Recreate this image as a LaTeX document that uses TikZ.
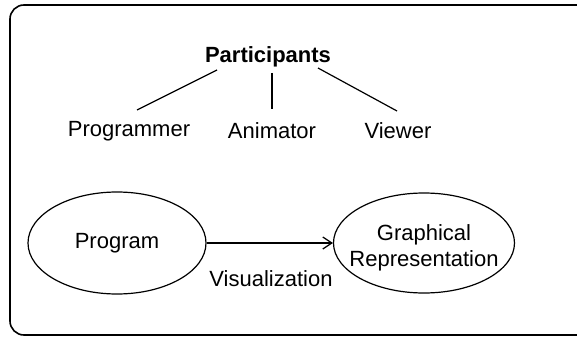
\documentclass[tikz,border=0pt]{standalone}
\usepackage{fontspec}
\setmainfont{Liberation Sans}
\usetikzlibrary{shapes.geometric,arrows.meta}
\begin{document}
\begin{tikzpicture}[x=1pt,y=-1pt,
  lbl/.style={font=\fontsize{22}{25.5}\selectfont, inner sep=0pt},
  oval/.style={draw, ellipse, line width=1.2pt, inner sep=0pt},
  edge/.style={line width=1.2pt},
]
\useasboundingbox (0,0) rectangle (577,339);
% outer frame (right side runs past the edge)
\draw[line width=1.6pt, rounded corners=14pt] (10,5) rectangle (600,335);

% participants tree
\node[lbl, font=\fontsize{22}{25.5}\selectfont\bfseries] (part) at (268,57) {Participants};
\node[lbl] (prog) at (129,131) {Programmer};
\node[lbl] (anim) at (272,131) {Animator};
\node[lbl] (view) at (398,131) {Viewer};
\coordinate (pl) at (217,70);
\coordinate (pm) at (272,73);
\coordinate (pr) at (318,68);
\coordinate (ql) at (137,110);
\coordinate (qm) at (272,109);
\coordinate (qr) at (397,111);
\draw[edge] (pl) -- (ql);
\draw[edge] (pm) -- (qm);
\draw[edge] (pr) -- (qr);

% program and its graphical representation
\node[oval, minimum width=178pt, minimum height=102pt] (progr) at (117,243) {};
\node[lbl] (progt) at (progr.center) {Program};
\node[oval, minimum width=181pt, minimum height=100pt] (graph) at (424,243) {};
\node[lbl, align=center] (grapht) at (424,248) {Graphical\\Representation};
\draw[edge, -{Straight Barb[length=9pt,width=12pt,line width=1.2pt]}] (progr.east) -- (graph.west);
\node[lbl] (vis) at (271,279) {Visualization};
\end{tikzpicture}
\end{document}
